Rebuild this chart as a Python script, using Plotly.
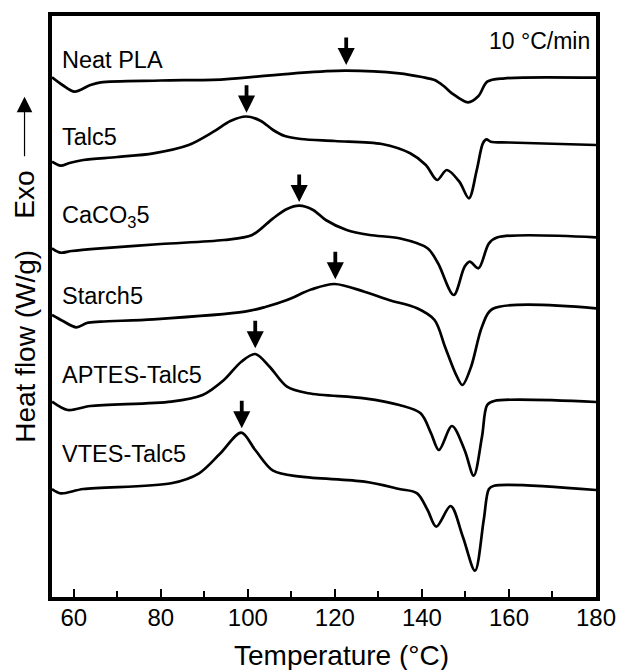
import plotly.graph_objects as go

# ---------------- data (heat flow in arbitrary offset units, exo up) ----------------
neat_T = [55, 57.4, 60.2, 63.8, 66.2, 80, 94.5, 110.6, 122.3, 134.8, 140, 142.9, 145, 146.9, 150.6, 153, 155, 159, 180]
neat_H = [519.7, 512, 505.3, 512, 514.7, 516.5, 517.7, 523.7, 526.3, 523.7, 520, 517, 511, 503.7, 494.7, 501, 515.3, 518.7, 519.3]

talc_T = [55, 57, 59, 62.2, 70, 78.3, 86.4, 92.1, 96, 99.6, 103, 105.8, 108.5, 112.2, 120, 130.8, 137.3, 140.9,
          143.5, 145.7, 148.6, 150.8, 152.6, 154, 154.8, 155.8, 160, 180]
talc_H = [435.3, 431.3, 434, 437, 440, 443.7, 452, 465.3, 476, 480.5, 476, 467, 461, 458, 456, 453, 443.7, 432,
          417, 427, 415.3, 398.7, 427, 453.7, 457.7, 455.3, 454.5, 452]

caco_T = [55, 57, 59.5, 66.2, 80, 94.5, 101, 105.8, 109, 111.8, 115, 117.9, 122.7, 128, 134.8, 141.3, 143.7,
          147.3, 149.8, 151, 153, 155.4, 157.4, 180]
caco_H = [348.7, 344.3, 346, 348.7, 353, 357, 362, 378.7, 388, 391.3, 387, 377, 367, 362, 358.7, 348.7, 333.7,
          302, 330.3, 335.3, 328.7, 353.7, 359.7, 359.7]

starch_T = [55, 57.5, 60.6, 63, 66.2, 78.3, 99.3, 104, 109, 114.7, 119.9, 126.8, 132.4, 138.9, 142.9, 145.3,
            147.7, 149.3, 151.3, 153.8, 156.2, 180]
starch_H = [282, 276, 269.7, 274, 275.3, 277.7, 285.3, 290, 297, 307.7, 313, 305.3, 297, 288.7, 277, 250.3,
            223.7, 212, 230.3, 270.3, 288, 288.7]

aptes_T = [55, 58.6, 63.8, 82.4, 89.6, 94.5, 98.5, 101.7, 105, 109, 113.9, 126.8, 134.8, 139.7, 142.1, 143.9,
           146.9, 149.8, 151.9, 153.8, 155, 156.6, 180]
aptes_H = [195.3, 187, 191, 195.3, 202, 217, 235.3, 243, 230.3, 210.3, 203.7, 198.7, 192, 183.7, 163.7, 147,
           171, 147, 121.3, 160.3, 192, 196, 195]

vtes_T = [55, 57, 62.2, 82.4, 88.8, 93.7, 98.5, 101.7, 105.8, 112.2, 126.8, 134.8, 138.9, 141.3, 143.3, 146.6,
          149.4, 152.2, 154.2, 155.4, 156.6, 180]
vtes_H = [108, 103.7, 108, 113.7, 123.7, 143.7, 164.3, 147, 126.3, 120.3, 115.3, 108, 103.7, 87, 70.3, 91,
          60.3, 26.3, 77, 108, 111.3, 107]

series_names = ["Neat PLA", "Talc5", "CaCO<sub>3</sub>5", "Starch5", "APTES-Talc5", "VTES-Talc5"]
series_T = [neat_T, talc_T, caco_T, starch_T, aptes_T, vtes_T]
series_H = [neat_H, talc_H, caco_H, starch_H, aptes_H, vtes_H]

# label anchor (temperature, heat flow) for each curve name
label_T = 56.8
label_H = [537.5, 460.3, 380.3, 301, 222, 143.5]

# crystallization-peak arrows (tip position)
arrow_T = [122.6, 99.7, 111.8, 120.1, 101.7, 98.6]
arrow_H = [532, 484.3, 395, 317.7, 248.7, 168.7]

x_ticks = [60, 80, 100, 120, 140, 160, 180]

FONT = "Liberation Sans, Arial, sans-serif"

fig = go.Figure()
for name, T, H in zip(series_names, series_T, series_H):
    fig.add_trace(go.Scatter(x=T, y=H, mode="lines", name=name,
                             line=dict(color="black", width=2.7, shape="spline", smoothing=0.9),
                             showlegend=False, hoverinfo="skip"))

ann = []
for name, h in zip(series_names, label_H):
    ann.append(dict(x=label_T, y=h, xref="x", yref="y", text=name, showarrow=False,
                    xanchor="left", yanchor="middle", font=dict(size=23.5, color="black", family=FONT)))
for t, h in zip(arrow_T, arrow_H):
    ann.append(dict(x=t, y=h, xref="x", yref="y", text="", showarrow=True,
                    ax=0, ay=-29, arrowhead=2, arrowwidth=3.8, arrowsize=0.9, arrowcolor="black"))

ann.append(dict(x=179.0, y=556, xref="x", yref="y", text="10 °C/min", showarrow=False,
                xanchor="right", yanchor="middle", font=dict(size=23, color="black", family=FONT)))

# axis titles
ann.append(dict(x=0.5315, y=-0.100, xref="paper", yref="paper", text="Temperature (°C)", showarrow=False,
                xanchor="center", yanchor="middle", font=dict(size=28, color="black", family=FONT)))
ann.append(dict(x=-0.05, y=0.432, xref="paper", yref="paper", text="Heat flow (W/g)", showarrow=False,
                textangle=-90, xanchor="center", yanchor="middle", font=dict(size=28, color="black", family=FONT)))
ann.append(dict(x=-0.05, y=0.692, xref="paper", yref="paper", text="Exo", showarrow=False,
                textangle=-90, xanchor="center", yanchor="middle", font=dict(size=28, color="black", family=FONT)))
ann.append(dict(x=-0.0505, y=0.861, xref="paper", yref="paper", text="", showarrow=True,
                ax=0, ay=61, arrowhead=2, arrowwidth=1.2, arrowsize=2.6, arrowcolor="black"))

fig.update_layout(
    width=628, height=670,
    margin=dict(l=52, r=21, t=16, b=73),
    paper_bgcolor="white", plot_bgcolor="white",
    annotations=ann,
    font=dict(family=FONT, color="black"),
)
fig.update_xaxes(range=[55, 180], tickvals=x_ticks, ticks="inside", ticklen=8, tickwidth=2, tickcolor="black",
                 minor=dict(dtick=10, tick0=60, ticks="inside", ticklen=6, tickwidth=2, tickcolor="black"),
                 showline=True, linewidth=4, linecolor="black", mirror=True, showgrid=False, zeroline=False,
                 ticklabelstandoff=-4,
                 tickfont=dict(size=24, color="black", family=FONT))
fig.update_yaxes(range=[0, 581], showticklabels=False, ticks="", showline=True, linewidth=4,
                 linecolor="black", mirror=True, showgrid=False, zeroline=False)

fig.write_html("out.html")
